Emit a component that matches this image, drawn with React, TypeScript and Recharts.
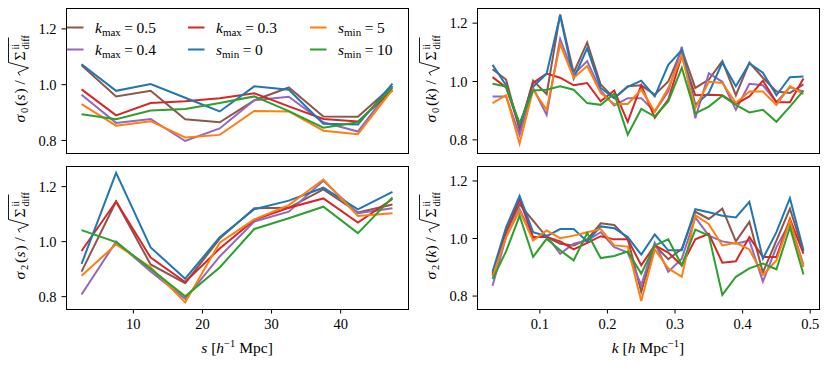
import React from 'react';
import { LineChart, Line, XAxis, YAxis } from 'recharts';

// ---------- categories ----------
const sBins = [2.5, 7.5, 12.5, 17.5, 22.5, 27.5, 32.5, 37.5, 42.5, 47.5];
const kBins = [0.03, 0.05, 0.07, 0.09, 0.11, 0.13, 0.15, 0.17, 0.19, 0.21, 0.23, 0.25,
  0.27, 0.29, 0.31, 0.33, 0.35, 0.37, 0.39, 0.41, 0.43, 0.45, 0.47, 0.49];

// ---------- tick labels ----------
const sTicks = [10, 20, 30, 40];
const kTicks = [0.1, 0.2, 0.3, 0.4, 0.5];
const yTicks = [0.8, 1.0, 1.2];

// ---------- sigma_0(s) ----------
const s0_kmax05 = [1.07, 0.958, 0.978, 0.876, 0.865, 0.944, 0.99, 0.886, 0.885, 0.995];
const s0_kmax04 = [0.964, 0.863, 0.877, 0.798, 0.843, 0.944, 0.957, 0.865, 0.832, 0.994];
const s0_kmax03 = [0.983, 0.89, 0.934, 0.941, 0.951, 0.969, 0.922, 0.877, 0.868, 0.98];
const s0_smin0 = [1.073, 0.978, 1.002, 0.953, 0.904, 0.994, 0.982, 0.86, 0.857, 1.004];
const s0_smin5 = [0.93, 0.853, 0.869, 0.811, 0.82, 0.906, 0.904, 0.835, 0.822, 0.982];
const s0_smin10 = [0.894, 0.876, 0.907, 0.913, 0.934, 0.958, 0.905, 0.846, 0.865, 0.989];

// ---------- sigma_2(s) ----------
const s2_kmax05 = [0.891, 1.146, 0.917, 0.849, 1.011, 1.121, 1.123, 1.19, 1.106, 1.135];
const s2_kmax04 = [0.808, 1.0, 0.891, 0.792, 0.946, 1.073, 1.109, 1.221, 1.103, 1.121];
const s2_kmax03 = [0.966, 1.146, 0.942, 0.853, 0.975, 1.079, 1.123, 1.157, 1.069, 1.155];
const s2_smin0 = [0.919, 1.25, 0.979, 0.865, 1.016, 1.118, 1.149, 1.196, 1.117, 1.181];
const s2_smin5 = [0.876, 0.99, 0.907, 0.779, 0.996, 1.081, 1.133, 1.226, 1.093, 1.103];
const s2_smin10 = [1.042, 0.998, 0.901, 0.801, 0.906, 1.046, 1.085, 1.127, 1.031, 1.161];

// ---------- sigma_0(k) ----------
const k0_kmax05 = [1.042, 1.007, 0.834, 1.003, 0.957, 1.23, 1.03, 1.134, 0.99, 0.943, 0.984, 0.987,
  0.955, 1.0, 1.11, 0.978, 1.007, 1.07, 0.953, 1.065, 1.013, 0.966, 0.961, 0.99];
const k0_kmax04 = [0.949, 0.949, 0.816, 0.978, 0.886, 1.146, 1.024, 1.07, 0.969, 0.918, 0.943, 0.943,
  0.897, 0.966, 1.119, 0.874, 1.028, 0.999, 0.903, 0.992, 0.987, 0.929, 0.98, 0.966];
const k0_kmax03 = [1.015, 0.98, 0.845, 0.995, 1.027, 1.013, 0.987, 0.995, 0.932, 0.969, 0.862, 0.987,
  0.876, 0.938, 1.088, 0.953, 0.955, 0.953, 0.923, 0.949, 1.003, 0.929, 0.929, 1.01];
const k0_smin0 = [1.057, 0.987, 0.851, 0.982, 1.027, 1.227, 1.01, 1.114, 0.978, 0.943, 0.982, 1.003,
  0.949, 1.057, 1.108, 0.92, 0.961, 1.065, 0.984, 1.062, 1.03, 0.953, 1.015, 1.017];
const k0_smin5 = [0.926, 0.953, 0.787, 0.972, 0.903, 1.128, 1.013, 1.053, 0.961, 0.923, 0.923, 0.972,
  0.897, 0.978, 1.088, 0.909, 0.999, 0.995, 0.926, 0.966, 0.966, 0.92, 0.984, 0.957];
const k0_smin10 = [0.992, 0.983, 0.857, 0.969, 0.972, 0.984, 0.972, 0.926, 0.92, 0.958, 0.818, 0.906,
  0.88, 0.932, 1.047, 0.891, 0.914, 0.951, 0.92, 0.894, 0.903, 0.862, 0.914, 0.969];

// ---------- sigma_2(k) ----------
const k2_kmax05 = [0.878, 1.022, 1.119, 1.062, 1.005, 0.982, 0.976, 0.997, 1.053, 1.047, 0.999, 0.815,
  0.976, 0.928, 0.964, 1.093, 1.068, 1.104, 0.99, 1.058, 0.882, 0.993, 1.104, 0.955];
const k2_kmax04 = [0.836, 1.005, 1.102, 1.001, 1.01, 0.947, 0.982, 0.993, 1.022, 0.97, 0.951, 0.838,
  0.985, 0.884, 0.93, 1.073, 1.01, 0.99, 0.982, 0.993, 0.85, 0.97, 1.056, 0.909];
const k2_kmax03 = [0.873, 1.022, 1.136, 1.005, 1.005, 0.99, 0.962, 0.985, 1.008, 0.997, 0.997, 0.907,
  0.976, 0.951, 0.907, 0.997, 1.016, 0.916, 0.921, 1.005, 0.936, 0.936, 1.068, 0.947];
const k2_smin0 = [0.884, 1.039, 1.148, 1.022, 1.008, 1.033, 1.033, 0.99, 1.042, 1.036, 1.005, 0.944,
  1.014, 0.959, 0.959, 1.102, 1.091, 1.079, 1.073, 1.127, 0.93, 1.022, 1.14, 0.959];
const k2_smin5 = [0.867, 1.005, 1.096, 0.993, 1.028, 1.001, 1.01, 1.022, 1.033, 0.976, 0.972, 0.783,
  0.962, 0.896, 0.867, 1.081, 1.05, 0.976, 0.985, 0.962, 0.873, 0.924, 1.062, 0.901];
const k2_smin10 = [0.859, 0.955, 1.079, 0.936, 0.999, 0.959, 0.924, 1.019, 0.932, 0.939, 0.955, 0.878,
  0.976, 0.997, 0.907, 1.031, 1.01, 0.804, 0.867, 0.896, 0.913, 0.893, 1.039, 0.875];

// ---------- series ----------
const SERIES = [
  { key: 'kmax05', color: '#8c564b', sym: 'k', sub: 'max', val: '0.5' },
  { key: 'kmax04', color: '#9467bd', sym: 'k', sub: 'max', val: '0.4' },
  { key: 'kmax03', color: '#d62728', sym: 'k', sub: 'max', val: '0.3' },
  { key: 'smin0', color: '#1f77b4', sym: 's', sub: 'min', val: '0' },
  { key: 'smin5', color: '#ff7f0e', sym: 's', sub: 'min', val: '5' },
  { key: 'smin10', color: '#2ca02c', sym: 's', sub: 'min', val: '10' },
];

function buildRows(xs: number[], cols: number[][]) {
  return xs.map((x, i) => {
    const row: any = { x };
    SERIES.forEach((s, j) => { row[s.key] = cols[j][i]; });
    return row;
  });
}

const rowsS0 = buildRows(sBins, [s0_kmax05, s0_kmax04, s0_kmax03, s0_smin0, s0_smin5, s0_smin10]);
const rowsS2 = buildRows(sBins, [s2_kmax05, s2_kmax04, s2_kmax03, s2_smin0, s2_smin5, s2_smin10]);
const rowsK0 = buildRows(kBins, [k0_kmax05, k0_kmax04, k0_kmax03, k0_smin0, k0_smin5, k0_smin10]);
const rowsK2 = buildRows(kBins, [k2_kmax05, k2_kmax04, k2_kmax03, k2_smin0, k2_smin5, k2_smin10]);

const FONT = "'Liberation Serif', 'DejaVu Serif', serif";
const TICK_FS = 14.5;

const S_DOMAIN: [number, number] = [0.25, 49.75];
const K_DOMAIN: [number, number] = [0.007, 0.513];
const YL_DOMAIN: [number, number] = [0.755, 1.275];
const YR_DOMAIN: [number, number] = [0.755, 1.252];

type PanelProps = {
  left: number; top: number; height: number; xAxisH: number;
  rows: any[]; xDomain: [number, number]; xTicks: number[]; yDomain: [number, number];
  showXLabels: boolean; xFmt: (v: number) => string;
};

function Panel(p: PanelProps) {
  return (
    <div style={{ position: 'absolute', left: p.left, top: p.top }}>
      <LineChart width={415} height={p.height} data={p.rows}
        margin={{ top: 8, right: 7, left: 0, bottom: 0 }}>
        <XAxis dataKey="x" type="number" domain={p.xDomain} ticks={p.xTicks} allowDataOverflow
          interval={0} height={p.xAxisH} axisLine={false} tickSize={4.5} tickMargin={5}
          tickLine={{ stroke: '#000', strokeWidth: 1 }}
          tick={p.showXLabels ? { fill: '#000', fontSize: TICK_FS, fontFamily: FONT } : false}
          tickFormatter={p.xFmt} />
        <YAxis type="number" domain={p.yDomain} ticks={yTicks} allowDataOverflow interval={0}
          width={66} axisLine={false} tickSize={4.5} tickMargin={5}
          tickLine={{ stroke: '#000', strokeWidth: 1 }}
          tick={{ fill: '#000', fontSize: TICK_FS, fontFamily: FONT }}
          tickFormatter={(v: number) => v.toFixed(1)} />
        {SERIES.map((s) => (
          <Line key={s.key} type="linear" dataKey={s.key} stroke={s.color} strokeWidth={2}
            dot={false} activeDot={false} isAnimationActive={false} />
        ))}
      </LineChart>
    </div>
  );
}

function YLabel({ cx, cy, order, arg }: { cx: number; cy: number; order: string; arg: string }) {
  return (
    <g transform={`translate(${cx},${cy}) rotate(-90)`} fontFamily={FONT} fill="#000">
      <text x={-42} y={0} fontSize={15.5} fontStyle="italic">σ</text>
      <text x={-32.5} y={3} fontSize={10.5}>{order}</text>
      <text x={-25.5} y={0} fontSize={15.5}>(</text>
      <text x={-20} y={0} fontSize={15.5} fontStyle="italic">{arg}</text>
      <text x={-13} y={0} fontSize={15.5}>)</text>
      <text x={-4} y={0} fontSize={15.5}>/</text>
      <path d="M 5 -5 L 8 -7 L 12.5 3.5 L 18 -16.5 L 43 -16.5" fill="none" stroke="#000" strokeWidth={0.9} />
      <text x={20} y={0} fontSize={15.5}>Σ</text>
      <text x={31} y={-6} fontSize={10}>ii</text>
      <text x={31} y={4} fontSize={10}>diff</text>
    </g>
  );
}

function Frame({ x, y, w, h }: { x: number; y: number; w: number; h: number }) {
  return <rect x={x + 0.5} y={y + 0.5} width={w} height={h} fill="none" stroke="#000" strokeWidth={1} />;
}

const LEG_COL_X = [67, 188, 310];
const LEG_ROW_Y = [27.5, 49.5];

function Legend() {
  return (
    <g fontFamily={FONT} fill="#000">
      {SERIES.map((s, i) => {
        const col = Math.floor(i / 2);
        const row = i % 2;
        const x = LEG_COL_X[col];
        const y = LEG_ROW_Y[row];
        return (
          <g key={s.key}>
            <line x1={x} x2={x + 16.5} y1={y} y2={y} stroke={s.color} strokeWidth={2} />
            <text x={x + 28} y={y + 5.5} fontSize={15.5}>
              <tspan fontStyle="italic">{s.sym}</tspan>
              <tspan fontSize={11} dy={3}>{s.sub}</tspan>
              <tspan dy={-3} dx={3.5}>=</tspan>
              <tspan dx={3.5}>{s.val}</tspan>
            </text>
          </g>
        );
      })}
    </g>
  );
}

export default function App() {
  return (
    <div style={{ position: 'absolute', left: 0, top: 0, width: 830, height: 365, background: '#fff' }}>
      <Panel left={0} top={0} height={163} xAxisH={10} rows={rowsS0} xDomain={S_DOMAIN}
        xTicks={sTicks} yDomain={YL_DOMAIN} showXLabels={false} xFmt={(v) => String(v)} />
      <Panel left={0} top={158} height={207} xAxisH={56} rows={rowsS2} xDomain={S_DOMAIN}
        xTicks={sTicks} yDomain={YL_DOMAIN} showXLabels={true} xFmt={(v) => String(v)} />
      <Panel left={411} top={0} height={163} xAxisH={10} rows={rowsK0} xDomain={K_DOMAIN}
        xTicks={kTicks} yDomain={YR_DOMAIN} showXLabels={false} xFmt={(v) => v.toFixed(1)} />
      <Panel left={411} top={158} height={207} xAxisH={56} rows={rowsK2} xDomain={K_DOMAIN}
        xTicks={kTicks} yDomain={YR_DOMAIN} showXLabels={true} xFmt={(v) => v.toFixed(1)} />
      <svg width={830} height={365} style={{ position: 'absolute', left: 0, top: 0, pointerEvents: 'none' }}>
        <Frame x={66} y={8} w={342} h={145} />
        <Frame x={66} y={166} w={342} h={143} />
        <Frame x={477} y={8} w={342} h={145} />
        <Frame x={477} y={166} w={342} h={143} />
        <YLabel cx={25} cy={80.5} order="0" arg="s" />
        <YLabel cx={25} cy={237.5} order="2" arg="s" />
        <YLabel cx={436} cy={80.5} order="0" arg="k" />
        <YLabel cx={436} cy={237.5} order="2" arg="k" />
        <Legend />
        <text x={237} y={353} textAnchor="middle" fontFamily={FONT} fontSize={15.5} fill="#000">
          <tspan fontStyle="italic">s</tspan>
          <tspan dx={4}>[</tspan>
          <tspan fontStyle="italic">h</tspan>
          <tspan fontSize={10.5} dy={-6}>−1</tspan>
          <tspan dy={6} dx={4}>Mpc]</tspan>
        </text>
        <text x={648} y={353} textAnchor="middle" fontFamily={FONT} fontSize={15.5} fill="#000">
          <tspan fontStyle="italic">k</tspan>
          <tspan dx={4}>[</tspan>
          <tspan fontStyle="italic">h</tspan>
          <tspan dx={4}>Mpc</tspan>
          <tspan fontSize={10.5} dy={-6}>−1</tspan>
          <tspan dy={6}>]</tspan>
        </text>
      </svg>
    </div>
  );
}
